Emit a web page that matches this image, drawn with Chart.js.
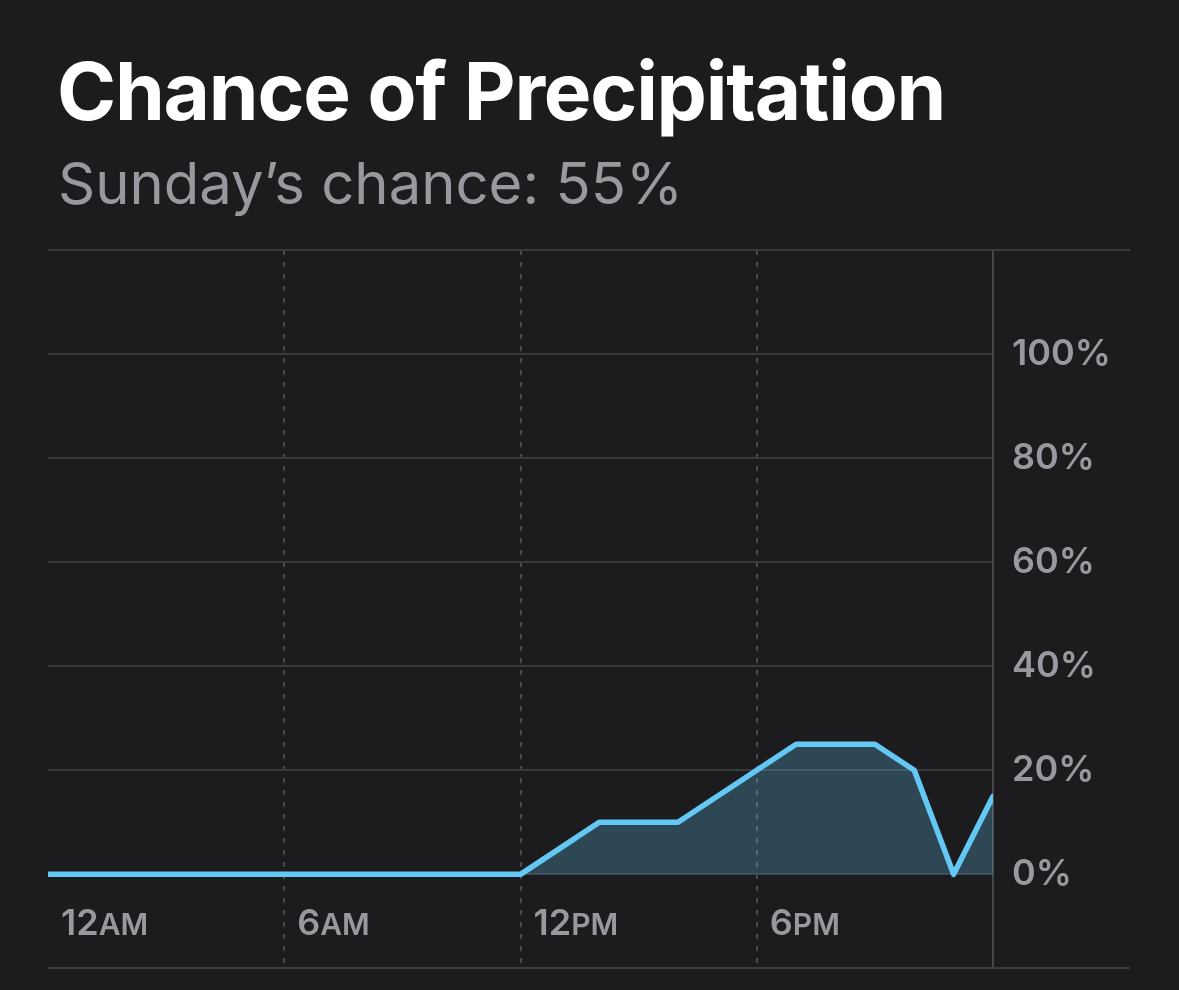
<!DOCTYPE html>
<html>
<head>
<meta charset="utf-8">
<script src="https://cdn.jsdelivr.net/npm/chart.js@4.4.1/dist/chart.umd.min.js"></script>
<style>
  html, body { margin: 0; padding: 0; background: #1c1c1e; }
  body { width: 1179px; height: 990px; position: relative; overflow: hidden; font-family: Inter, "Noto Sans", sans-serif; }
  #title { position: absolute; left: 57px; top: 51px; margin: 0; font-size: 80px; font-weight: 700; color: #ffffff; line-height: 1; letter-spacing: -1.2px; z-index: 2; }
  #subtitle { position: absolute; left: 58px; top: 154px; margin: 0; font-size: 58px; font-weight: 400; color: #98989e; line-height: 1; z-index: 2; }
  #chart { position: absolute; left: 0; top: 0; }
</style>
</head>
<body>
<h1 id="title">Chance of Precipitation</h1>
<div id="subtitle">Sunday’s chance: 55%</div>
<canvas id="chart" width="1179" height="990"></canvas>
<script>
// hourly chance of precipitation, 12AM to 12AM next day
const hours = [0, 1, 2, 3, 4, 5, 6, 7, 8, 9, 10, 11, 12, 13, 14, 15, 16, 17, 18, 19, 20, 21, 22, 23, 24];
const chance = [0, 0, 0, 0, 0, 0, 0, 0, 0, 0, 0, 0, 0, 5, 10, 10, 10, 15, 20, 25, 25, 25, 20, 0, 15];

const xTickHours = [0, 6, 12, 18];
const xTickLabels = ["12AM", "6AM", "12PM", "6PM"];
const yTicks = [0, 20, 40, 60, 80, 100];
const yMin = -18;
const yMax = 120;

const gridColor = "#3a3a3c";
const labelColor = "#98989e";

// top/bottom rules that run past the axis, and the hour labels inside the plot
const extras = {
  id: "extras",
  afterDraw(chart) {
    const { ctx, chartArea, scales } = chart;
    const x = scales.x;
    const y = scales.y;
    ctx.save();
    ctx.strokeStyle = gridColor;
    ctx.lineWidth = 2;
    [yMax, yMin].forEach(v => {
      const py = Math.round(y.getPixelForValue(v));
      ctx.beginPath();
      ctx.moveTo(chartArea.left, py);
      ctx.lineTo(chart.width - 49, py);
      ctx.stroke();
    });

    ctx.fillStyle = labelColor;
    ctx.textBaseline = "alphabetic";
    ctx.textAlign = "left";
    const base = y.getPixelForValue(0) + 61;
    xTickHours.forEach((h, i) => {
      const m = xTickLabels[i].match(/^(\d+)(\D+)$/);
      let px = x.getPixelForValue(h) + 13;
      ctx.font = "600 36px Inter";
      ctx.fillText(m[1], px, base);
      px += ctx.measureText(m[1]).width;
      ctx.font = "600 30px Inter";
      ctx.fillText(m[2], px, base);
    });
    ctx.restore();
  }
};

const ctx = document.getElementById("chart").getContext("2d");
const chart = new Chart(ctx, {
  type: "line",
  data: {
    datasets: [
      {
        data: hours.map((h, i) => ({ x: h, y: chance[i] })),
        borderColor: "#64c8f5",
        backgroundColor: "rgba(100, 200, 250, 0.25)",
        borderWidth: 5.5,
        borderJoinStyle: "round",
        borderCapStyle: "round",
        fill: "origin",
        tension: 0,
        pointRadius: 0
      }
    ]
  },
  options: {
    responsive: false,
    animation: false,
    devicePixelRatio: 1,
    layout: { padding: { left: 48, top: 250, right: 0, bottom: 22 } },
    plugins: {
      legend: { display: false },
      tooltip: { enabled: false }
    },
    scales: {
      x: {
        type: "linear",
        min: 0,
        max: 24,
        ticks: { display: false, stepSize: 6 },
        afterFit: scale => { scale.height = 0; },
        grid: {
          drawTicks: false,
          lineWidth: 2,
          color: c => (c.tick && c.tick.value > 0 && c.tick.value < 24 ? "#4a4a4e" : "transparent")
        },
        border: { display: false, dash: [5, 7] }
      },
      y: {
        position: "right",
        min: yMin,
        max: yMax,
        afterBuildTicks: scale => { scale.ticks = yTicks.map(v => ({ value: v })); },
        afterFit: scale => {
          scale.width = 186;
          scale.paddingTop = 0;
          scale.paddingBottom = 0;
        },
        ticks: {
          padding: 19,
          color: labelColor,
          font: { family: "Inter", size: 36, weight: "600" },
          callback: v => v + "%"
        },
        grid: { drawTicks: false, lineWidth: 2, color: gridColor },
        border: { display: true, color: "#48484a", width: 2 }
      }
    }
  },
  plugins: [extras]
});
</script>
</body>
</html>
